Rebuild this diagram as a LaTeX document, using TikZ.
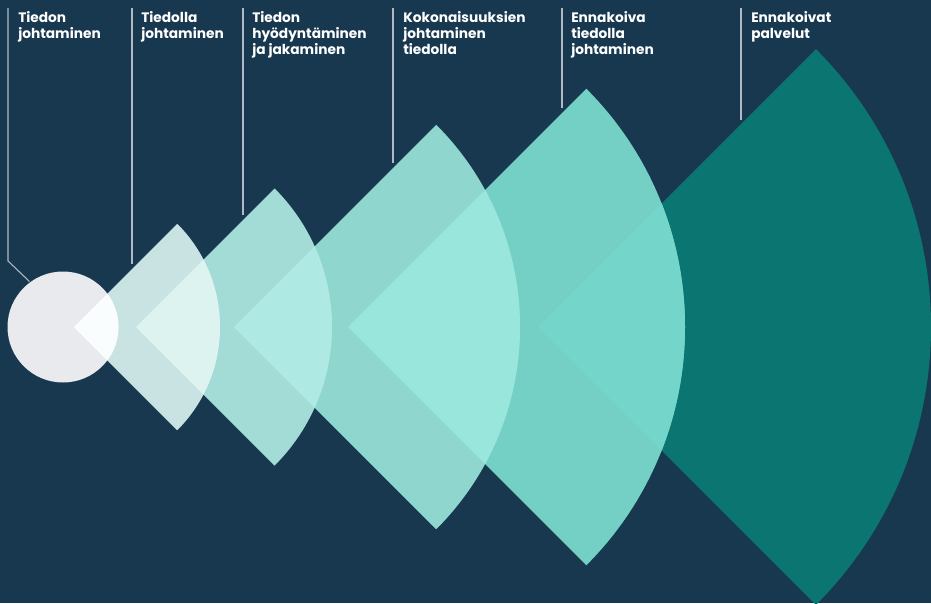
\documentclass[tikz,border=0pt]{standalone}
\usepackage{fontspec}
\setmainfont{Poppins}
\definecolor{bgc}{HTML}{17384F}
\definecolor{circc}{HTML}{E8EAEE}
\definecolor{sa}{HTML}{C9E3E3}
\definecolor{sb}{HTML}{A3DBD6}
\definecolor{sc}{HTML}{8FD6CF}
\definecolor{sd}{HTML}{74D0C5}
\definecolor{se}{HTML}{0B7571}
\definecolor{lca}{HTML}{FAFDFE}
\definecolor{lab}{HTML}{DCF3F0}
\definecolor{lbc}{HTML}{AEEAE3}
\definecolor{lcd}{HTML}{98E6DC}
\definecolor{lde}{HTML}{74D6CA}
\definecolor{leader}{HTML}{B0B9C4}
\newcommand\sectorfill[3]{\fill[#3] (#1,327) -- ++(45:#2) arc[start angle=45,end angle=-45,radius=#2] -- cycle;}
\newcommand\sectorclip[2]{\clip (#1,327) -- ++(45:#2) arc[start angle=45,end angle=-45,radius=#2] -- cycle;}
\tikzset{
  lbl/.style={anchor=north west,inner sep=0pt,align=left,text=white,font=\bfseries\fontsize{10.3}{12.2}\selectfont},
  leaderline/.style={draw=leader,line width=0.8pt}
}
\begin{document}
\begin{tikzpicture}[x=0.75pt,y=-0.75pt]
\fill[bgc] (0,0) rectangle (931,603);
\useasboundingbox (0,0) rectangle (931,603);
% shapes
\sectorfill{538}{393}{se}
\sectorfill{348}{337}{sd}
\sectorfill{234}{286}{sc}
\sectorfill{136}{196}{sb}
\sectorfill{74}{146}{sa}
\node[circle,fill=circc,minimum size=111*0.75pt,inner sep=0pt] (c0) at (63,327) {};
% overlaps
\begin{scope}\sectorclip{74}{146}\fill[lca] (63,327) circle[radius=55.5];\end{scope}
\begin{scope}\sectorclip{74}{146}\sectorfill{136}{196}{lab}\end{scope}
\begin{scope}\sectorclip{136}{196}\sectorfill{234}{286}{lbc}\end{scope}
\begin{scope}\sectorclip{234}{286}\sectorfill{348}{337}{lcd}\end{scope}
\begin{scope}\sectorclip{348}{337}\sectorfill{538}{393}{lde}\end{scope}
% labels
\node[lbl] (t1) at (18,11) {Tiedon\\johtaminen};
\node[lbl] (t2) at (141,11) {Tiedolla\\johtaminen};
\node[lbl] (t3) at (252,11) {Tiedon\\hyödyntäminen\\ja jakaminen};
\node[lbl] (t4) at (403,11) {Kokonaisuuksien\\johtaminen\\tiedolla};
\node[lbl] (t5) at (571,11) {Ennakoiva\\tiedolla\\johtaminen};
\node[lbl] (t6) at (751,11) {Ennakoivat\\palvelut};
% leader lines
\coordinate (a1) at (8,8); \coordinate (b1) at (8,261); \coordinate (e1) at (29.5,281.5);
\coordinate (a2) at (132,8); \coordinate (e2) at (132,264);
\coordinate (a3) at (243,8); \coordinate (e3) at (243,215);
\coordinate (a4) at (393,8); \coordinate (e4) at (393,163);
\coordinate (a5) at (562,8); \coordinate (e5) at (562,108);
\coordinate (a6) at (741,8); \coordinate (e6) at (741,120);
\draw[leaderline] (a1) -- (b1) -- (e1);
\draw[leaderline] (a2) -- (e2);
\draw[leaderline] (a3) -- (e3);
\draw[leaderline] (a4) -- (e4);
\draw[leaderline] (a5) -- (e5);
\draw[leaderline] (a6) -- (e6);
\end{tikzpicture}
\end{document}
